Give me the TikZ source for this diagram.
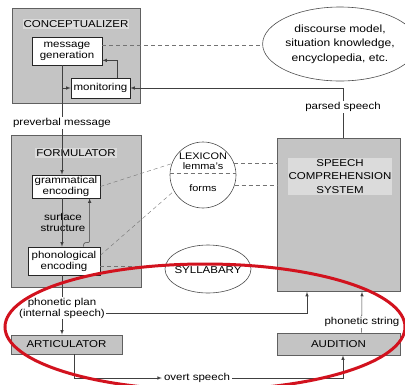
\documentclass[tikz,border=0pt]{standalone}
\usepackage{fontspec}
\setmainfont{Liberation Sans}[FakeStretch=1.15]
\usetikzlibrary{arrows}
\usetikzlibrary{shapes.geometric,calc}
\usepackage{xcolor}
\definecolor{boxgray}{gray}{0.77}
\definecolor{titlegray}{gray}{0.86}
\definecolor{linegray}{gray}{0.25}
\definecolor{dashgray}{gray}{0.45}
\definecolor{markred}{RGB}{210,18,30}
\tikzstyle{arrow} = [line width=0.55pt,->,>=latex,draw=linegray]
\tikzstyle{lexlink} = [thin,draw=dashgray,dash pattern=on 4pt off 3pt]
\tikzstyle{module} = [draw=gray!75!black, fill=boxgray, line width=0.8pt, inner sep=0pt]
\tikzstyle{process} = [draw=black!85, fill=white, line width=0.7pt, align=center, inner sep=0.5pt]
\tikzstyle{store} = [draw=black!70, line width=0.6pt, inner sep=0pt]
\tikzstyle{flowtext} = [fill=white, inner sep=1pt, align=center]
\tikzstyle{title} = [fill=titlegray, inner sep=1pt, align=center]

\begin{document}
\begin{tikzpicture}[x=1pt, y=-1pt, font=\fontsize{10}{11}\selectfont]
  \useasboundingbox (0,0) rectangle (405,384);
  \coordinate (spine) at (62,0);
  \coordinate (hear) at (343,0);

  % Conceptualizer
  \node [module, minimum width=128pt, minimum height=95pt, anchor=north west] (concept) at (12,8) {};
  \node [title] (concepttitle) at (76,24) {CONCEPTUALIZER};
  \node [process, minimum width=70pt, minimum height=28pt] (mgen) at (67,51) {message\\generation};
  \node [process, minimum width=59pt, minimum height=20pt] (monitor) at (100.5,88) {monitoring};

  % Knowledge store
  \node [store, ellipse, minimum width=124pt, minimum height=74pt, align=center,
         font=\fontsize{10.5}{14.5}\selectfont] (discourse) at (340,44)
  {discourse model,\\situation knowledge,\\encyclopedia, etc.};

  % Formulator
  \node [module, minimum width=130pt, minimum height=152pt, anchor=north west] (formul) at (11,135) {};
  \node [title] (formtitle) at (76,153) {FORMULATOR};
  \node [process, minimum width=68pt, minimum height=23pt] (gram) at (66,186.5) {grammatical\\encoding};
  \node [process, minimum width=72pt, minimum height=28pt] (phono) at (64,261) {phonological\\encoding};
  \node [fill=boxgray, inner sep=1pt, align=center] (surface) at (63,222.5) {surface\\structure};

  % Lexicon and syllabary
  \node [store, circle, minimum size=66pt] (lexicon) at (203,175) {};
  \node [inner sep=0pt, font=\fontsize{9.5}{10}\selectfont] (lextitle) at (203,156) {LEXICON};
  \node [inner sep=0pt, font=\fontsize{9.5}{10}\selectfont] (lemmas) at (203,166) {lemma's};
  \node [inner sep=0pt, font=\fontsize{9.5}{10}\selectfont] (forms) at (203,188) {forms};
  \node [store, ellipse, minimum width=86pt, minimum height=48pt] (syllabary) at (208,269) {};
  \node [inner sep=0pt] (sylltitle) at (208,270) {SYLLABARY};

  % Speech comprehension
  \node [module, minimum width=123pt, minimum height=153pt, anchor=north west] (speechcomp) at (277,138) {};
  \node [title, font=\fontsize{10}{13.5}\selectfont] (comptitle) at (340,176.5) {SPEECH\\COMPREHENSION\\SYSTEM};

  % Articulator and audition
  \node [module, minimum width=111pt, minimum height=19pt] (artic) at (66.5,344.5) {ARTICULATOR};
  \node [module, minimum width=123pt, minimum height=22pt] (audition) at (338.5,344) {AUDITION};

  % Connectors
  \draw [arrow] (mgen.south -| spine) -- (gram.north -| spine);
  \node [flowtext] (preverbal) at (62,123) {preverbal message};
  \draw [arrow] (monitor.west -| spine) -- (monitor.west);
  \draw [arrow] ($(monitor.north west)+(47,0)$) |- ($(mgen.south east)+(0,-5)$);
  \draw [lexlink] ($(mgen.north east)!0.3!(mgen.south east)$) -- (discourse.west |- {$(mgen.north east)!0.3!(mgen.south east)$});
  \draw [arrow] (speechcomp.north -| hear) |- (monitor.east);
  \node [flowtext] (parsed) at (343,107) {parsed speech};

  \draw [arrow] (gram.south -| spine) -- (phono.north -| spine);
  \draw [arrow, rounded corners=2pt] ($(phono.north west)+(56,0)$) -- ++(0,-4) -| ($(gram.south west)+(58,0)$);
  \draw [lexlink] (gram.east) -- (lexicon.160);
  \draw [lexlink] ($(phono.north east)!0.3!(phono.south east)$) -- (lexicon.209);
  \draw [lexlink] ($(phono.north east)!0.68!(phono.south east)$) -- (syllabary.west |- {$(phono.north east)!0.68!(phono.south east)$});
  \draw [lexlink] ($(lexicon.west)+(0,-2)$) -- ($(lexicon.east)+(0,-2)$);
  \draw [lexlink] (lexicon.20) -- (speechcomp.west |- lexicon.20);
  \draw [lexlink] (lexicon.-18) -- (speechcomp.west |- lexicon.-18);

  \draw [arrow] (phono.south -| spine) -- (artic.north -| spine);
  \node [flowtext] (plan) at (62,308) {phonetic plan\\(internal speech)};
  \draw [arrow] ($(plan.east)+(0,5)$) -| ($(speechcomp.south west)+(30,0)$);

  \node [flowtext, inner sep=2pt] (overt) at (197,378) {overt speech};
  \draw [arrow] ($(artic.south west)+(64,0)$) |- (overt.west);
  \draw [arrow] (overt.east) -| (audition.south -| hear);
  \draw [arrow] ($(audition.north west)+(85,0)$) -- ($(speechcomp.south west)+(85,0)$);
  \node [flowtext] (string) at (362,322) {phonetic string};

  % Red marking
  \begin{scope}
    \clip (0,0) rectangle (405,384);
    \draw [markred, line width=3pt] (205,327) ellipse [x radius=200, y radius=63];
  \end{scope}
\end{tikzpicture}
\end{document}
